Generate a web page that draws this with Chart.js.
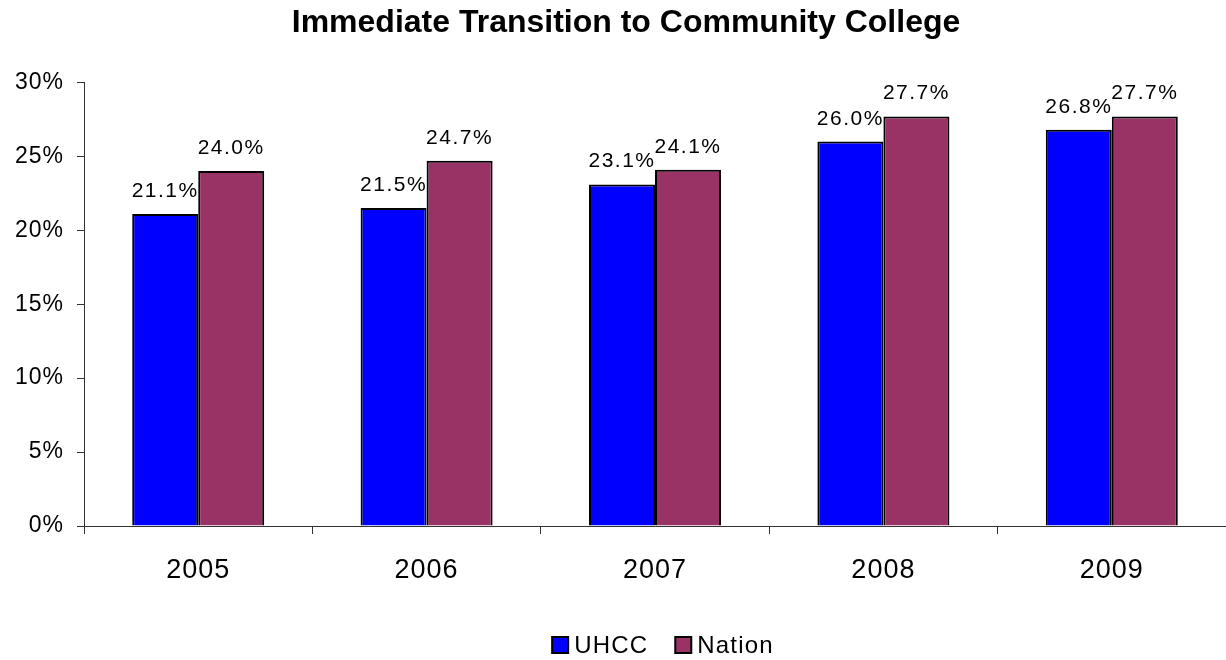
<!DOCTYPE html>
<html>
<head>
<meta charset="utf-8">
<script src="https://cdn.jsdelivr.net/npm/chart.js@4.4.0/dist/chart.umd.min.js"></script>
<style>
  html, body { margin: 0; padding: 0; background: #fff; }
  #wrap { width: 1226px; height: 660px; }
</style>
</head>
<body>
<div id="wrap"><canvas id="c" width="1226" height="660"></canvas></div>
<script>
const categories = ['2005', '2006', '2007', '2008', '2009'];
const uhccValues = [21.1, 21.5, 23.1, 26.0, 26.8];
const nationValues = [24.0, 24.7, 24.1, 27.7, 27.7];
const yTicks = [0, 5, 10, 15, 20, 25, 30];
const seriesNames = ['UHCC', 'Nation'];
const seriesColors = ['#0000FF', '#993366'];

const FONT = "'Liberation Sans', Arial, sans-serif";

const spacingPlugin = {
  id: 'spacing',
  beforeInit(chart) { chart.ctx.letterSpacing = '1px'; },
  afterInit(chart) {
    const tb = chart.titleBlock;
    if (tb) {
      const orig = tb.draw.bind(tb);
      tb.draw = function (area) {
        const ctx = chart.ctx;
        const prev = ctx.letterSpacing;
        ctx.save();
        ctx.letterSpacing = '0px';
        ctx.translate(13, 0);
        orig(area);
        ctx.restore();
        ctx.letterSpacing = prev;
      };
    }
  },
  beforeDraw(chart) { chart.ctx.letterSpacing = '1px'; }
};

const dataLabels = {
  id: 'dataLabels',
  afterDatasetsDraw(chart) {
    const ctx = chart.ctx;
    ctx.save();
    ctx.letterSpacing = '1.5px';
    ctx.font = '21px ' + FONT;
    ctx.fillStyle = '#000';
    ctx.textAlign = 'center';
    ctx.textBaseline = 'alphabetic';
    chart.data.datasets.forEach((ds, di) => {
      const meta = chart.getDatasetMeta(di);
      meta.data.forEach((bar, i) => {
        ctx.fillText(ds.data[i].toFixed(1) + '%', bar.x, bar.y - 17);
      });
    });
    ctx.restore();
  }
};

const customLegend = {
  id: 'customLegend',
  afterDraw(chart) {
    const ctx = chart.ctx;
    const ca = chart.chartArea;
    ctx.save();
    ctx.font = '24px ' + FONT;
    ctx.letterSpacing = '1.2px';
    ctx.textBaseline = 'middle';
    ctx.textAlign = 'left';
    const box = 16, gapText = 6, gapItem = 27;
    const items = chart.data.datasets.map(ds => ({ text: ds.label, color: ds.backgroundColor, w: ctx.measureText(ds.label).width }));
    let total = 0;
    items.forEach((it, i) => { total += box + gapText + it.w + (i < items.length - 1 ? gapItem : 0); });
    let x = (ca.left + ca.right) / 2 - total / 2 + 8;
    const cy = 645;
    items.forEach(it => {
      ctx.fillStyle = it.color;
      ctx.fillRect(x, cy - box / 2, box, box);
      ctx.strokeStyle = '#000';
      ctx.lineWidth = 2;
      ctx.strokeRect(x, cy - box / 2, box, box);
      ctx.fillStyle = '#000';
      ctx.fillText(it.text, x + box + gapText, cy + 1);
      x += box + gapText + it.w + gapItem;
    });
    ctx.restore();
  }
};

new Chart(document.getElementById('c'), {
  type: 'bar',
  data: {
    labels: categories,
    datasets: [
      { label: seriesNames[0], data: uhccValues, backgroundColor: seriesColors[0], borderColor: '#000', borderWidth: 2 },
      { label: seriesNames[1], data: nationValues, backgroundColor: seriesColors[1], borderColor: '#000', borderWidth: 2 }
    ]
  },
  options: {
    responsive: false,
    animation: false,
    devicePixelRatio: 1,
    layout: { padding: { left: 0, right: 0, top: 0, bottom: 58 } },
    datasets: { bar: { categoryPercentage: 0.578, barPercentage: 1.0 } },
    plugins: {
      title: {
        display: true,
        text: 'Immediate Transition to Community College',
        color: '#000',
        font: { family: FONT, size: 32, weight: 'bold' },
        padding: { top: 4, bottom: 40 }
      },
      legend: { display: false },
      tooltip: { enabled: false }
    },
    scales: {
      x: {
        grid: { display: true, drawOnChartArea: false, drawTicks: true, tickLength: 8, color: '#333', offset: true },
        border: { display: true, color: '#333', width: 1 },
        ticks: { color: '#000', font: { family: FONT, size: 27 }, padding: 20, maxRotation: 0 },
        afterFit(scale) { scale.height = 76; }
      },
      y: {
        min: 0,
        max: 30,
        afterBuildTicks(scale) { scale.ticks = yTicks.map(v => ({ value: v })); },
        grid: { display: true, drawOnChartArea: false, drawTicks: true, tickLength: 7, color: '#333' },
        border: { display: true, color: '#333', width: 1 },
        ticks: { color: '#000', font: { family: FONT, size: 23 }, padding: 13, callback: v => v + '%' },
        afterFit(scale) { scale.width = 84; }
      }
    }
  },
  plugins: [spacingPlugin, dataLabels, customLegend]
});
</script>
</body>
</html>
